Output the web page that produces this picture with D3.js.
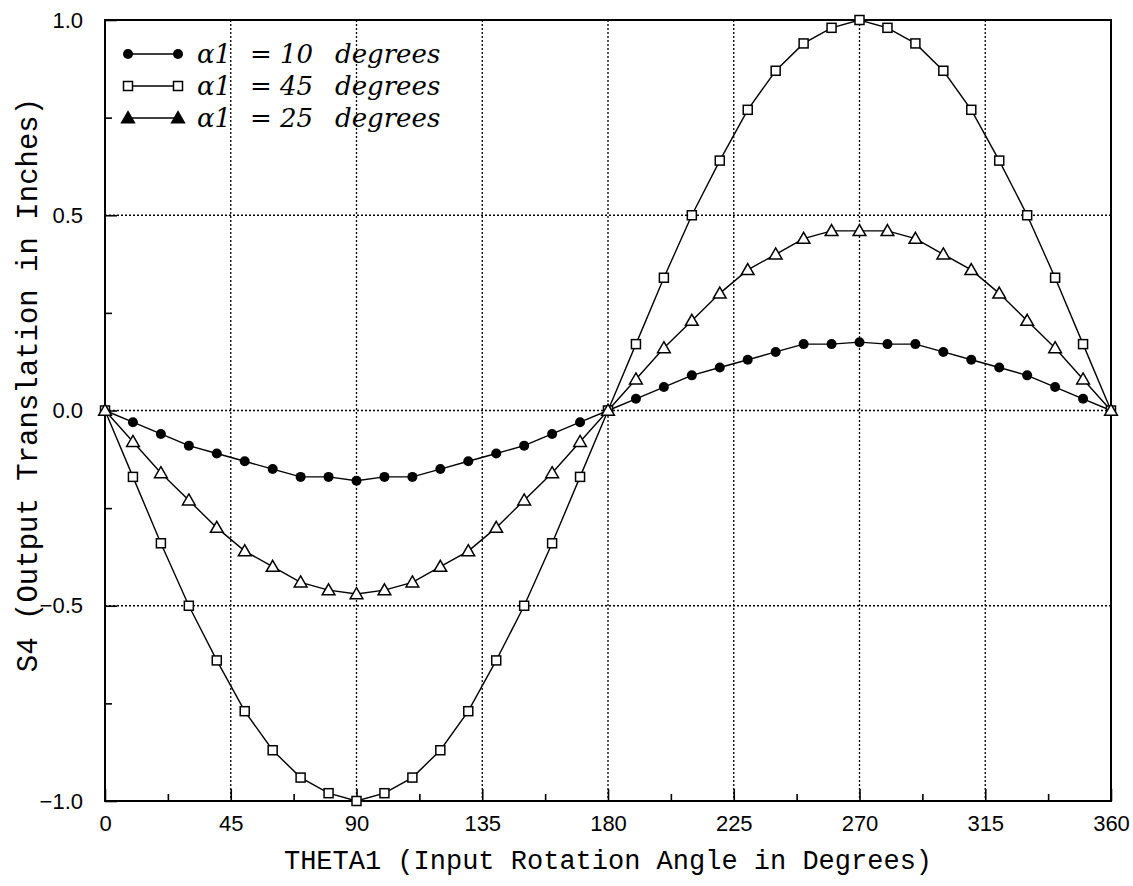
<!DOCTYPE html>
<html>
<head>
<meta charset="utf-8">
<script src="https://cdn.jsdelivr.net/npm/d3@7"></script>
<style>
  body { margin: 0; background: #fff; }
  svg { display: block; }
  .tick-label { font-family: "Liberation Sans", Arial, sans-serif; font-size: 22px; fill: #000; }
  .axis-title { font-family: "Liberation Mono", "Courier New", monospace; font-size: 27px; fill: #000; }
  .legend-text { font-family: "DejaVu Serif", serif; font-style: italic; font-size: 26px; fill: #000; }
</style>
</head>
<body>
<svg id="chart" width="1133" height="886"></svg>
<script>
// Sudut input (derajat)
const theta = [0, 10, 20, 30, 40, 50, 60, 70, 80, 90, 100, 110, 120, 130, 140, 150, 160, 170, 180,
               190, 200, 210, 220, 230, 240, 250, 260, 270, 280, 290, 300, 310, 320, 330, 340, 350, 360];

// Nilai S4
const s4Alpha10 = [0, -0.03, -0.06, -0.09, -0.11, -0.13, -0.15, -0.17, -0.17, -0.18, -0.17, -0.17, -0.15,
                   -0.13, -0.11, -0.09, -0.06, -0.03, 0, 0.03, 0.06, 0.09, 0.11, 0.13, 0.15, 0.17, 0.17,
                   0.175, 0.17, 0.17, 0.15, 0.13, 0.11, 0.09, 0.06, 0.03, 0];
const s4Alpha45 = [0, -0.17, -0.34, -0.50, -0.64, -0.77, -0.87, -0.94, -0.98, -1.00, -0.98, -0.94, -0.87,
                   -0.77, -0.64, -0.50, -0.34, -0.17, 0, 0.17, 0.34, 0.50, 0.64, 0.77, 0.87, 0.94, 0.98,
                   1.00, 0.98, 0.94, 0.87, 0.77, 0.64, 0.50, 0.34, 0.17, 0];
const s4Alpha25 = [0, -0.08, -0.16, -0.23, -0.30, -0.36, -0.40, -0.44, -0.46, -0.47, -0.46, -0.44, -0.40,
                   -0.36, -0.30, -0.23, -0.16, -0.08, 0, 0.08, 0.16, 0.23, 0.30, 0.36, 0.40, 0.44, 0.46,
                   0.46, 0.46, 0.44, 0.40, 0.36, 0.30, 0.23, 0.16, 0.08, 0];

const xTicks = [0, 45, 90, 135, 180, 225, 270, 315, 360];
const yTicks = [-1.0, -0.5, 0.0, 0.5, 1.0];
const xMinorTicks = [22.5, 67.5, 112.5, 157.5, 202.5, 247.5, 292.5, 337.5];
const yMinorTicks = [-0.75, -0.25, 0.25, 0.75];

const seriesNames = ["10", "45", "25"];

// Set up margin dan dimensi
const margin = { top: 20, right: 22, bottom: 85, left: 105 };
const width = 1133 - margin.left - margin.right;
const height = 886 - margin.top - margin.bottom;

const svg = d3.select("#chart")
    .append("g")
    .attr("transform", `translate(${margin.left},${margin.top})`);

const x = d3.scaleLinear().domain([0, 360]).range([0, width]);
const y = d3.scaleLinear().domain([-1, 1]).range([height, 0]);

// Grid titik-titik
svg.append("g")
    .selectAll("line")
    .data(xTicks.slice(1, -1))
    .enter().append("line")
    .attr("x1", d => x(d)).attr("x2", d => x(d))
    .attr("y1", 0).attr("y2", height)
    .attr("stroke", "#000")
    .attr("stroke-width", 1.3)
    .attr("stroke-dasharray", "2,2");

svg.append("g")
    .selectAll("line")
    .data(yTicks.slice(1, -1))
    .enter().append("line")
    .attr("y1", d => y(d)).attr("y2", d => y(d))
    .attr("x1", 0).attr("x2", width)
    .attr("stroke", "#000")
    .attr("stroke-width", 1.3)
    .attr("stroke-dasharray", "2,2");

// Sumbu X
svg.append("g")
    .attr("transform", `translate(0,${height})`)
    .call(d3.axisBottom(x).tickValues(xTicks).tickSize(-12).tickPadding(14).tickFormat(d3.format("d")))
    .call(g => g.select(".domain").remove())
    .call(g => g.selectAll(".tick line").attr("stroke-width", 1.6))
    .call(g => g.selectAll(".tick text").attr("class", "tick-label").attr("font-family", null).attr("font-size", null));

svg.append("g")
    .attr("transform", `translate(0,${height})`)
    .call(d3.axisBottom(x).tickValues(xMinorTicks).tickSize(-7).tickFormat(""))
    .call(g => g.select(".domain").remove())
    .call(g => g.selectAll(".tick line").attr("stroke-width", 1.6));

// Sumbu Y
svg.append("g")
    .call(d3.axisLeft(y).tickValues(yTicks).tickSize(-12).tickPadding(22).tickFormat(d3.format(".1f")))
    .call(g => g.select(".domain").remove())
    .call(g => g.selectAll(".tick line").attr("stroke-width", 1.6))
    .call(g => g.selectAll(".tick text").attr("class", "tick-label").attr("font-family", null).attr("font-size", null));

svg.append("g")
    .call(d3.axisLeft(y).tickValues(yMinorTicks).tickSize(-7).tickFormat(""))
    .call(g => g.select(".domain").remove())
    .call(g => g.selectAll(".tick line").attr("stroke-width", 1.6));

// Bingkai plot
svg.append("rect")
    .attr("width", width)
    .attr("height", height)
    .attr("fill", "none")
    .attr("stroke", "#000")
    .attr("stroke-width", 2);

// Garis data
const line = d3.line()
    .x(d => x(d.t))
    .y(d => y(d.v));

const toPoints = vals => theta.map((t, i) => ({ t: t, v: vals[i] }));
const allSeries = [
    { name: seriesNames[0], points: toPoints(s4Alpha10), marker: "circle" },
    { name: seriesNames[1], points: toPoints(s4Alpha45), marker: "square" },
    { name: seriesNames[2], points: toPoints(s4Alpha25), marker: "triangle" }
];

allSeries.forEach(s => {
    svg.append("path")
        .datum(s.points)
        .attr("d", line)
        .attr("fill", "none")
        .attr("stroke", "#000")
        .attr("stroke-width", 1.4);
});

// Fungsi penanda
function drawMarker(g, type, cx, cy, legend) {
    if (type === "circle") {
        g.append("circle")
            .attr("cx", cx).attr("cy", cy).attr("r", 5)
            .attr("fill", "#000");
    } else if (type === "square") {
        g.append("rect")
            .attr("x", cx - 4.5).attr("y", cy - 4.5)
            .attr("width", 9).attr("height", 9)
            .attr("fill", "#fff")
            .attr("stroke", "#000")
            .attr("stroke-width", 1.5);
    } else {
        const sym = d3.symbol().type(d3.symbolTriangle).size(70);
        g.append("path")
            .attr("d", sym())
            .attr("transform", `translate(${cx},${cy + 1})`)
            .attr("fill", legend ? "#000" : "#fff")
            .attr("stroke", "#000")
            .attr("stroke-width", 1.5);
    }
}

allSeries.forEach(s => {
    const g = svg.append("g");
    s.points.forEach(p => drawMarker(g, s.marker, x(p.t), y(p.v), false));
});

// Legenda
const legend = svg.append("g").attr("transform", "translate(23,34)");
allSeries.forEach((s, i) => {
    const row = legend.append("g").attr("transform", `translate(0,${i * 32})`);
    row.append("line")
        .attr("x1", 0).attr("x2", 50)
        .attr("y1", 0).attr("y2", 0)
        .attr("stroke", "#000")
        .attr("stroke-width", 1.6);
    drawMarker(row, s.marker, 0, 0, true);
    drawMarker(row, s.marker, 50, 0, true);
    const txt = row.append("text")
        .attr("class", "legend-text")
        .attr("y", 9);
    txt.append("tspan").attr("x", 69).text("\u03B11");
    txt.append("tspan").attr("x", 122).text("=");
    txt.append("tspan").attr("x", 152).text(s.name);
    txt.append("tspan").attr("x", 207).text("degrees");
});

// Label sumbu
svg.append("text")
    .attr("class", "axis-title")
    .attr("x", width / 2)
    .attr("y", height + 68)
    .attr("text-anchor", "middle")
    .text("THETA1 (Input Rotation Angle in Degrees)");

svg.append("text")
    .attr("class", "axis-title")
    .attr("transform", "rotate(-90)")
    .attr("x", -365)
    .attr("y", -68)
    .attr("text-anchor", "middle")
    .style("font-size", "29px")
    .text("S4 (Output Translation in Inches)");
</script>
</body>
</html>
